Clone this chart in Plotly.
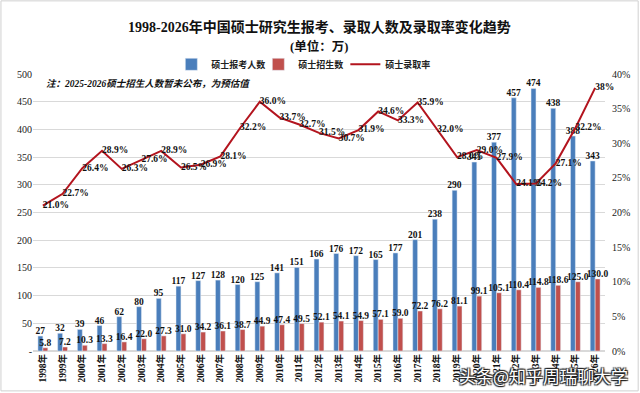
import plotly.graph_objects as go

years = [f"{y}年" for y in range(1998, 2027)]
applicants = [27, 32, 39, 46, 62, 80, 95, 117, 127, 128, 120, 125, 141, 151, 166, 176, 172, 165,
              177, 201, 238, 290, 341, 377, 457, 474, 438, 388, 343]
admitted = [5.8, 7.2, 10.3, 13.3, 16.4, 22.0, 27.3, 31.0, 34.2, 36.1, 38.7, 44.9, 47.4, 49.5, 52.1,
            54.1, 54.9, 57.1, 59.0, 72.2, 76.2, 81.1, 99.1, 105.1, 110.4, 114.8, 118.6, 125.0, 130.0]
rates = [21.0, 22.7, 26.4, 28.9, 26.3, 27.6, 28.9, 26.5, 26.9, 28.1, 32.2, 36.0, 33.7, 32.7, 31.5,
         30.7, 31.9, 34.6, 33.3, 35.9, 32.0, 28.0, 29.0, 27.9, 24.1, 24.2, 27.1, 32.2, 38.0]
rate_labels = [f"{r:.1f}%" for r in rates[:-1]] + ["38%"]

left_ticks = [0, 50, 100, 150, 200, 250, 300, 350, 400, 450, 500]
left_tick_text = ["-"] + [str(v) for v in left_ticks[1:]]
right_ticks = [0, 5, 10, 15, 20, 25, 30, 35, 40]
right_tick_text = [f"{v}%" for v in right_ticks]

SERIF = "Liberation Serif, Times New Roman, Noto Sans CJK SC"
CJK = "Noto Sans CJK SC, Liberation Serif"

fig = go.Figure()
fig.add_trace(go.Bar(
    x=years, y=applicants, name="硕士报考人数", marker_color="#4A7EBB",
    text=[str(v) for v in applicants], textposition="outside", cliponaxis=False,
    constraintext="none",
    textfont=dict(family=SERIF, size=9.5, color="#111111", weight="bold"),
))
fig.add_trace(go.Bar(
    x=years, y=admitted, name="硕士招生数", marker_color="#C0504D",
    text=[f"{v:.1f}" for v in admitted], textposition="outside", cliponaxis=False,
    constraintext="none",
    textfont=dict(family=SERIF, size=9.5, color="#111111", weight="bold"),
))
fig.add_trace(go.Scatter(
    x=years, y=rates, name="硕士录取率", yaxis="y2", mode="lines+text",
    line=dict(color="#B3141E", width=2),
    text=rate_labels, textposition="middle right", cliponaxis=False,
    textfont=dict(family=SERIF, size=9.5, color="#111111", weight="bold"),
))

fig.update_layout(
    width=640, height=393,
    paper_bgcolor="white", plot_bgcolor="white",
    margin=dict(l=33, r=35, t=74, b=42, autoexpand=False),
    barmode="group", bargap=0.5, bargroupgap=0,
    showlegend=True,
    legend=dict(orientation="h", x=0.47, xanchor="center", y=1.035, yanchor="middle",
                font=dict(family=CJK, size=9, color="#222222", weight="bold"),
                bgcolor="rgba(0,0,0,0)", itemwidth=30, entrywidthmode="pixels", entrywidth=42,
                tracegroupgap=0),
    xaxis=dict(
        type="category", range=[-0.5, 28.5], automargin=False,
        tickangle=-90, showgrid=False, showline=False, ticks="",
        tickfont=dict(family=SERIF, size=9.5, color="#111111", weight="bold"),
    ),
    yaxis=dict(
        range=[0, 500], tickvals=left_ticks, ticktext=left_tick_text, automargin=False,
        showgrid=True, gridcolor="#D9D9D9", gridwidth=1, zeroline=True, zerolinecolor="#D9D9D9",
        tickfont=dict(family=SERIF, size=10, color="#222222"),
    ),
    yaxis2=dict(
        range=[0, 40], tickvals=right_ticks, ticktext=right_tick_text, automargin=False,
        overlaying="y", side="right", showgrid=False, zeroline=False, ticklabelstandoff=6,
        tickfont=dict(family=SERIF, size=10, color="#222222"),
    ),
    annotations=[
        dict(text="1998-2026年中国硕士研究生报考、录取人数及录取率变化趋势", xref="paper", yref="paper",
             x=0.5, y=1.170, xanchor="center", yanchor="middle", showarrow=False,
             font=dict(family=SERIF, size=14, color="#111111", weight="bold")),
        dict(text="(单位：万)", xref="paper", yref="paper",
             x=0.5, y=1.10, xanchor="center", yanchor="middle", showarrow=False,
             font=dict(family=SERIF, size=12.5, color="#111111", weight="bold")),
        dict(text="注：2025-2026硕士招生人数暂未公布，为预估值", xref="paper", yref="paper",
             x=0.02, y=0.967, xanchor="left", yanchor="middle", showarrow=False,
             font=dict(family=SERIF, size=9.5, color="#111111", weight="bold", style="italic")),
        dict(text="头条@知乎周瑞聊大学", xref="paper", yref="paper",
             x=1.044, y=-0.087, xanchor="right", yanchor="middle", showarrow=False,
             font=dict(family=CJK, size=17, color="white",
                       shadow="1px 1px 1px #222, -1px -1px 1px #222, 1px -1px 1px #222, -1px 1px 1px #222")),
    ],
    shapes=[dict(type="rect", xref="paper", yref="paper", x0=-0.056, x1=1.058, y0=-0.144, y1=1.264,
                 line=dict(color="#D0D0D0", width=1))],
)

fig.write_html("out.html", config={"displayModeBar": False},
               post_script="document.body.style.margin='0';")
